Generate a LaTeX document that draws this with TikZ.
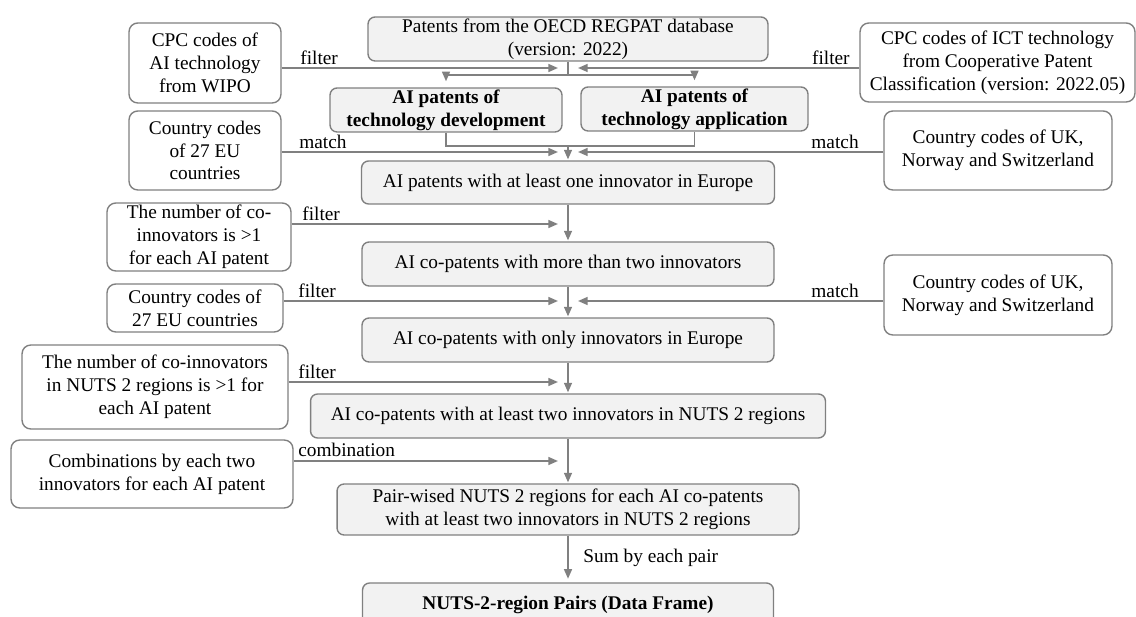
\documentclass[tikz,border=0pt]{standalone}
\usepackage{fontspec}
\setmainfont{Liberation Serif}
\usepackage{xcolor}
\usepackage{tikz}
\usetikzlibrary{arrows.meta,positioning,calc}

\definecolor{edgegray}{HTML}{808080}
\definecolor{boxgray}{HTML}{F2F2F2}

\begin{document}
\begin{tikzpicture}[
    x=0.02cm, y=-0.02cm,
    font=\fontsize{11}{13}\selectfont,
    inbox/.style={rectangle, draw=edgegray, line width=0.8pt, rounded corners=5pt, align=center, inner sep=0.5pt, fill=white},
    stage/.style={rectangle, draw=edgegray, line width=0.8pt, rounded corners=4pt, align=center, inner sep=0.5pt, fill=boxgray},
    link/.style={draw=edgegray, line width=1pt},
    arr/.style={link, -{Triangle[length=5.5pt,width=4.5pt]}, shorten >=0.5pt},
    feed/.style={arr, shorten >=0.2cm},
    lbl/.style={anchor=base west, inner sep=0pt}
]
    \useasboundingbox (0,0) rectangle (1136,617);

    % main column
    \node[stage, minimum width=8cm, minimum height=0.88cm] (src) at (568,39) {Patents from the OECD REGPAT database\\(version: 2022)};
    \node[stage, minimum width=4.64cm, minimum height=0.88cm, font=\fontsize{11}{13}\selectfont\bfseries] (dev) at (446,110) {AI patents of\\technology development};
    \node[stage, minimum width=4.54cm, minimum height=0.88cm, font=\fontsize{11}{13}\selectfont\bfseries] (app) at (694.5,109) {AI patents of\\technology application};
    \node[stage, minimum width=8.26cm, minimum height=0.86cm] (europe) at (568,182.5) {AI patents with at least one innovator in Europe};
    \node[stage, minimum width=8.24cm, minimum height=0.88cm] (more2) at (568,264) {AI co-patents with more than two innovators};
    \node[stage, minimum width=8.24cm, minimum height=0.88cm] (only) at (568,340) {AI co-patents with only innovators in Europe};
    \node[stage, minimum width=10.3cm, minimum height=0.88cm] (least2) at (568,416) {AI co-patents with at least two innovators in NUTS 2 regions};
    \node[stage, minimum width=9.24cm, minimum height=1.02cm] (pair) at (568,509.5) {Pair-wised NUTS 2 regions for each AI co-patents\\with at least two innovators in NUTS 2 regions};
    \node[stage, minimum width=8.22cm, minimum height=0.88cm, font=\fontsize{11}{13}\selectfont\bfseries] (frame) at (568,605) {NUTS-2-region Pairs (Data Frame)};

    % inputs on the left
    \node[inbox, minimum width=3.04cm, minimum height=1.6cm] (cpcai) at (205,63) {CPC codes of\\AI technology\\from WIPO};
    \node[inbox, minimum width=3.04cm, minimum height=1.58cm] (eu1) at (205,150.5) {Country codes\\of 27 EU\\countries};
    \node[inbox, minimum width=3.68cm, minimum height=1.36cm] (coinv) at (199,237) {The number of co-\\innovators is >1\\for each AI patent};
    \node[inbox, minimum width=3.52cm, minimum height=0.96cm] (eu2) at (195,308) {Country codes of\\27 EU countries};
    \node[inbox, minimum width=5.32cm, minimum height=1.68cm] (nuts) at (155,387) {The number of co-innovators\\in NUTS 2 regions is >1 for\\each AI patent};
    \node[inbox, minimum width=5.64cm, minimum height=1.36cm] (comb) at (152,474) {Combinations by each two\\innovators for each AI patent};

    % inputs on the right
    \node[inbox, minimum width=5.5cm, minimum height=1.58cm] (cpcict) at (997.5,62.5) {CPC codes of ICT technology\\from Cooperative Patent\\Classification (version: 2022.05)};
    \node[inbox, minimum width=4.56cm, minimum height=1.58cm] (uk1) at (998,150.5) {Country codes of UK,\\Norway and Switzerland};
    \node[inbox, minimum width=4.56cm, minimum height=1.6cm] (uk2) at (998,295) {Country codes of UK,\\Norway and Switzerland};

    % junctions
    \coordinate (m0) at (568,68);
    \coordinate (j0) at (568,75);
    \coordinate (j1) at (568,146);
    \coordinate (m1) at (568,152);
    \coordinate (m2) at (568,224);
    \coordinate (m3) at (568,301);
    \coordinate (m4) at (568,382);
    \coordinate (m5) at (568,461);

    % flow
    \draw[link] (src.south) -- (j0);
    \draw[arr, shorten >=0.12cm] (j0) -| (dev.north);
    \draw[arr, shorten >=0.12cm] (j0) -| (app.north);
    \draw[link] (dev.south) |- (j1) -| (app.south);
    \draw[arr] (j1) -- (europe.north);
    \draw[arr] (europe) -- (more2);
    \draw[arr] (more2) -- (only);
    \draw[arr] (only) -- (least2);
    \draw[arr] (least2) -- (pair);
    \draw[arr, shorten >=2pt] (pair) -- (frame);

    % side feeds
    \draw[feed] (cpcai.east |- m0) -- (m0);
    \draw[feed] (cpcict.west |- m0) -- (m0);
    \draw[feed] (eu1.east |- m1) -- (m1);
    \draw[feed] (uk1.west |- m1) -- (m1);
    \draw[feed] (coinv.east |- m2) -- (m2);
    \draw[feed] (eu2.east |- m3) -- (m3);
    \draw[feed] (uk2.west |- m3) -- (m3);
    \draw[feed] (nuts.east |- m4) -- (m4);
    \draw[feed] (comb.east |- m5) -- (m5);

    % labels
    \node[lbl] (l0) at (300,65) {filter};
    \node[lbl, anchor=base east] (r0) at (850,65) {filter};
    \node[lbl] (l1) at (299,149) {match};
    \node[lbl, anchor=base east] (r1) at (859,149) {match};
    \node[lbl] (l2) at (302,221) {filter};
    \node[lbl] (l3) at (298,298) {filter};
    \node[lbl, anchor=base east] (r3) at (859,298) {match};
    \node[lbl] (l4) at (298,379) {filter};
    \node[lbl] (l5) at (298,457) {combination};
    \node[lbl, anchor=west] (l6) at (583,558) {Sum by each pair};
\end{tikzpicture}
\end{document}
